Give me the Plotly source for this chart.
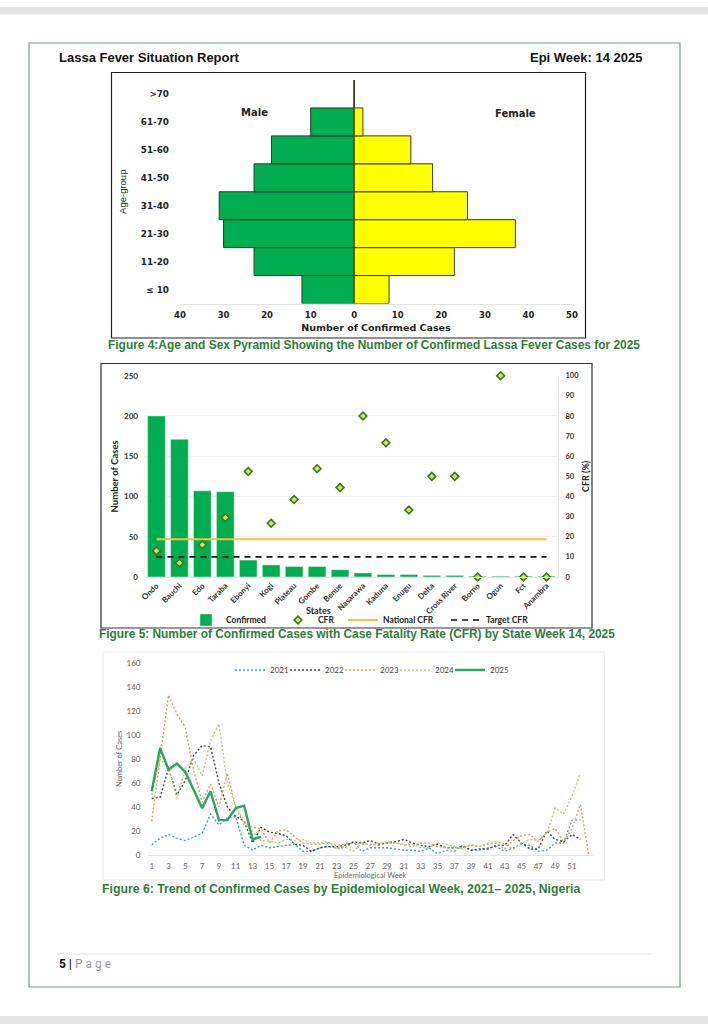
import plotly.graph_objects as go

W, H = 708, 1024

# --- Figure 4: pyramid
age_groups = ["\u2264 10", "11-20", "21-30", "31-40", "41-50", "51-60", "61-70", ">70"]
male = [12, 23, 30, 31, 23, 19, 10, 0]
female = [8, 23, 37, 26, 18, 13, 2, 0]
pyramid_ticks = [-40, -30, -20, -10, 0, 10, 20, 30, 40, 50]
pyramid_labels = ["40", "30", "20", "10", "0", "10", "20", "30", "40", "50"]

# --- Figure 5: states
states = ["Ondo", "Bauchi", "Edo", "Taraba", "Ebonyi", "Kogi", "Plateau", "Gombe", "Benue",
          "Nasarawa", "Kaduna", "Enugu", "Delta", "Cross River", "Borno", "Ogun", "Fct", "Anambra"]
confirmed = [200, 171, 107, 106, 21, 15, 13, 13, 9, 5, 3, 3, 2, 2, 1, 1, 1, 1]
cfr = [13, 7, 16, 29.5, 52.4, 26.7, 38.5, 53.8, 44.4, 80, 66.7, 33.3, 50, 50, 0, 100, 0, 0]
national_cfr = [18.8] * 18
target_cfr = [10] * 18

# --- Figure 6: weekly trend
weeks = list(range(1, 54))
w2021 = [8.5, 14, 17, 14, 12, 15, 18, 34, 25, 31, 32, 8, 4, 8, 6, 7, 8, 9,
         3, 3, 6, 7, 6, 6, 11, 3, 6, 6, 6, 5, 4, 4, 3, 6, 1, 4, 3, 8, 4, 4, 6, 7, 3, 6, 9, 8, 3, 4, 10, 10, 29, 29]
w2022 = [47, 48, 72, 50, 62, 83, 91, 90, 60, 40, 32, 28, 10, 23, 19, 18, 16, 9,
         8, 3, 6, 7, 7, 8, 11, 10, 12, 9, 10, 11, 13, 10, 8, 7, 9, 6, 6, 7, 4, 5, 5, 8, 8, 17, 10, 5, 5, 20, 13, 11, 17, 13]
w2023 = [28, 80, 133, 117, 106, 70, 44, 59, 40, 68, 40, 25, 23, 22, 10, 20, 21, 15,
         10, 9, 9, 10, 8, 9, 10, 9, 9, 8, 10, 10, 9, 7, 10, 10, 7, 6, 6, 6, 8, 7, 9, 10, 5, 12, 16, 17, 11, 19, 22, 11, 22, 42, 0]
w2024 = [50, 80, 73, 47, 72, 80, 66, 95, 109, 60, 40, 28, 20, 12, 12, 10, 13, 12,
         13, 10, 10, 11, 5, 7, 3, 10, 8, 10, 11, 10, 8, 9, 6, 6, 10, 9, 7, 5, 9, 7, 10, 11, 9, 5, 10, 13, 12, 18, 39, 34, 49, 68]
w2025 = [53, 89, 71, 76, 69, 54, 39, 53, 29, 29, 39, 41, 13, 15]
week_ticks = list(range(1, 52, 2))


def px(x):
    return x / W


def py(y):
    return 1 - y / H


fig = go.Figure()

# pyramid
fig.add_trace(go.Bar(y=age_groups, x=[-v for v in male], orientation="h", name="Male", showlegend=False, width=1,
                     marker=dict(color="#00ad50", line=dict(color="#2b3a2b", width=1)), xaxis="x", yaxis="y"))
fig.add_trace(go.Bar(y=age_groups, x=female, orientation="h", name="Female", showlegend=False, width=1,
                     marker=dict(color="#ffff00", line=dict(color="#3a3a10", width=1)), xaxis="x", yaxis="y"))

# states
fig.add_trace(go.Bar(x=states, y=confirmed, name="Confirmed", marker=dict(color="#00ad50"), width=0.77,
                     xaxis="x2", yaxis="y2", legend="legend"))
fig.add_trace(go.Scatter(x=states, y=national_cfr, name="National CFR", mode="lines",
                         line=dict(color="#f5c242", width=2), xaxis="x2", yaxis="y3", legend="legend3"))
fig.add_trace(go.Scatter(x=states, y=target_cfr, name="Target CFR", mode="lines",
                         line=dict(color="#111111", width=1.6, dash="6px,5px"), xaxis="x2", yaxis="y3",
                         legend="legend4"))
fig.add_trace(go.Scatter(x=states, y=cfr, name="CFR", mode="markers", cliponaxis=False,
                         marker=dict(symbol="diamond", size=6, color="#c9e27a", line=dict(color="#3b7a12", width=1.6)),
                         xaxis="x2", yaxis="y3", legend="legend2"))

# trend, one legend per year so the entries can sit close together
trend_series = [("2021", w2021, "#35a5c9", "legend5"), ("2022", w2022, "#3f4a44", "legend6"),
                ("2023", w2023, "#e39a66", "legend7"), ("2024", w2024, "#aed07a", "legend8")]
for name, vals, col, leg in trend_series:
    fig.add_trace(go.Scatter(x=weeks[:len(vals)], y=vals, name=name, mode="lines",
                             line=dict(color=col, width=1.4, dash="2px,2px"), xaxis="x3", yaxis="y4", legend=leg))
fig.add_trace(go.Scatter(x=weeks[:len(w2025)], y=w2025, name="2025", mode="lines",
                         line=dict(color="#2ea55f", width=2.4), xaxis="x3", yaxis="y4", legend="legend9"))

arial = "Liberation Sans"
calibri = "Lato"
wide = "DejaVu Sans"
green_cap = "#2f7d3a"


def label(text, x, y, size, family, color="#222222", xanchor="center", weight="bold"):
    return dict(text=text, x=px(x), y=py(y), xref="paper", yref="paper", xanchor=xanchor, yanchor="middle",
                showarrow=False, font=dict(family=family, size=size, color=color, weight=weight))


annotations = [
    label("Lassa Fever Situation Report", 57, 57, 13, arial, "#111111", "left"),
    label("Epi Week: 14 2025", 645, 57, 13, arial, "#111111", "right"),
    label("Male", 254, 112, 10, wide),
    label("Female", 515, 113, 10, wide),
    label("States", 318, 610, 9, calibri),
    label("Figure 4:Age and Sex Pyramid Showing the Number of Confirmed Lassa Fever Cases for 2025",
          106, 345, 11.93, arial, green_cap, "left"),
    label("Figure 5: Number of Confirmed Cases with Case Fatality Rate (CFR) by State Week 14, 2025",
          97, 634, 11.9, arial, green_cap, "left"),
    label("Figure 6: Trend of Confirmed Cases by Epidemiological Week, 2021\u2013 2025, Nigeria",
          100, 889, 12.28, arial, green_cap, "left"),
    label("<b>5 |</b> <span style='color:#9a9a9a'>P a g e</span>", 57, 964, 12, "Roboto", "#111111", "left", "normal"),
]


def rect(x0, y0, x1, y1, line=None, fill=None, width=1):
    return dict(type="rect", xref="paper", yref="paper", x0=px(x0), x1=px(x1), y0=py(y0), y1=py(y1),
                line=dict(color=line or "rgba(0,0,0,0)", width=width), fillcolor=fill or "rgba(0,0,0,0)", layer="below")


shapes = [
    rect(0, 7, W, 14.5, fill="#e3e3e3"),
    rect(0, 1016, W, 1024, fill="#e3e3e3"),
    rect(29, 43, 680, 987, line="#7f9c85", width=1.2),
    rect(111.5, 72.5, 585.5, 338, line="#222222", width=1.2),
    rect(101, 363.5, 592, 628, line="#333333", width=1.2),
    rect(103, 652, 604.5, 880, line="#ececec", width=1),
    dict(type="line", xref="paper", yref="paper", x0=px(57), x1=px(651), y0=py(954), y1=py(954),
         line=dict(color="#dddddd", width=1), layer="below"),
]


def state_legend(x):
    return dict(x=px(x), y=py(620), xanchor="left", yanchor="middle", bgcolor="rgba(0,0,0,0)",
                font=dict(family=calibri, size=8.5, color="#222222", weight="bold"))


def year_legend(x):
    return dict(x=px(x), y=py(670), xanchor="left", yanchor="middle", bgcolor="rgba(0,0,0,0)",
                font=dict(family=calibri, size=8, color="#444444"))


fig.update_layout(
    width=W, height=H, margin=dict(l=0, r=0, t=0, b=0, pad=0, autoexpand=False), autosize=False,
    paper_bgcolor="white", plot_bgcolor="white",
    barmode="overlay",
    font=dict(family=calibri, color="#333333"),
    annotations=annotations, shapes=shapes,
    # pyramid axes
    xaxis=dict(domain=[px(180), px(572)], range=[-40, 50], tickvals=pyramid_ticks, ticktext=pyramid_labels,
               anchor="y", showgrid=False, zeroline=False, showline=True, linecolor="#e2e2e2", ticks="",
               ticklabelstandoff=3, automargin=False,
               tickfont=dict(family=wide, size=8.5, color="#222222", weight="bold"),
               title=dict(text="Number of Confirmed Cases", standoff=5,
                          font=dict(family=wide, size=9.5, color="#222222", weight="bold"))),
    yaxis=dict(domain=[py(303.5), py(80)], anchor="x", type="category", categoryorder="array", categoryarray=age_groups,
               range=[-0.5, 7.5], showgrid=False, zeroline=False, showline=False, ticks="", ticklabelstandoff=10,
               automargin=False, tickfont=dict(family=wide, size=8.8, color="#222222", weight="bold"),
               title=dict(text="Age-group", standoff=12, font=dict(family=arial, size=9.5, color="#222222"))),
    # state axes
    xaxis2=dict(domain=[px(145), px(558)], anchor="y2", type="category", categoryorder="array", categoryarray=states,
                range=[-0.5, 17.5], showgrid=False, zeroline=False, showline=True, linecolor="#e6e6e6", ticks="",
                tickangle=-45, automargin=False, tickfont=dict(family=calibri, size=8, color="#333333", weight="bold")),
    yaxis2=dict(domain=[py(577), py(375.7)], anchor="x2", range=[0, 250], tickvals=[0, 50, 100, 150, 200, 250],
                showgrid=True, gridcolor="#f1f1f1", zeroline=False, ticks="", ticklabelstandoff=6, automargin=False,
                tickfont=dict(family=calibri, size=8, color="#333333", weight="bold"),
                title=dict(text="Number of Cases", standoff=3,
                           font=dict(family=calibri, size=9.5, color="#222222", weight="bold"))),
    yaxis3=dict(domain=[py(577), py(375.7)], anchor="x2", overlaying="y2", side="right", range=[0, 100],
                tickvals=list(range(0, 101, 10)), showgrid=False, zeroline=False, showline=True, linecolor="#e6e6e6",
                ticks="", ticklabelstandoff=5, automargin=False,
                tickfont=dict(family=calibri, size=7.5, color="#333333", weight="bold"),
                title=dict(text="CFR (%)", standoff=4, font=dict(family=calibri, size=9, color="#222222", weight="bold"))),
    # trend axes
    xaxis3=dict(domain=[px(147.5), px(593)], anchor="y4", range=[0.5, 53.5], tickvals=week_ticks,
                showgrid=False, zeroline=False, showline=True, linecolor="#e4e4e4", ticks="", ticklabelstandoff=3,
                automargin=False, tickfont=dict(family=calibri, size=8, color="#666666"),
                title=dict(text="Epidemiological Week", standoff=2, font=dict(family=calibri, size=7.5, color="#666666"))),
    yaxis4=dict(domain=[py(855), py(662.7)], anchor="x3", range=[0, 160], tickvals=list(range(0, 161, 20)),
                showgrid=False, zeroline=False, showline=False, ticks="", ticklabelstandoff=6, automargin=False,
                tickfont=dict(family=calibri, size=8, color="#666666"),
                title=dict(text="Number of Cases", standoff=2, font=dict(family=calibri, size=7.5, color="#666666"))),
    legend=state_legend(186), legend2=state_legend(278), legend3=state_legend(343), legend4=state_legend(446),
    legend5=year_legend(230), legend6=year_legend(285), legend7=year_legend(340), legend8=year_legend(395),
    legend9=year_legend(450),
)

fig.write_html("out.html", config={"displayModeBar": False}, post_script="document.body.style.margin='0'")
